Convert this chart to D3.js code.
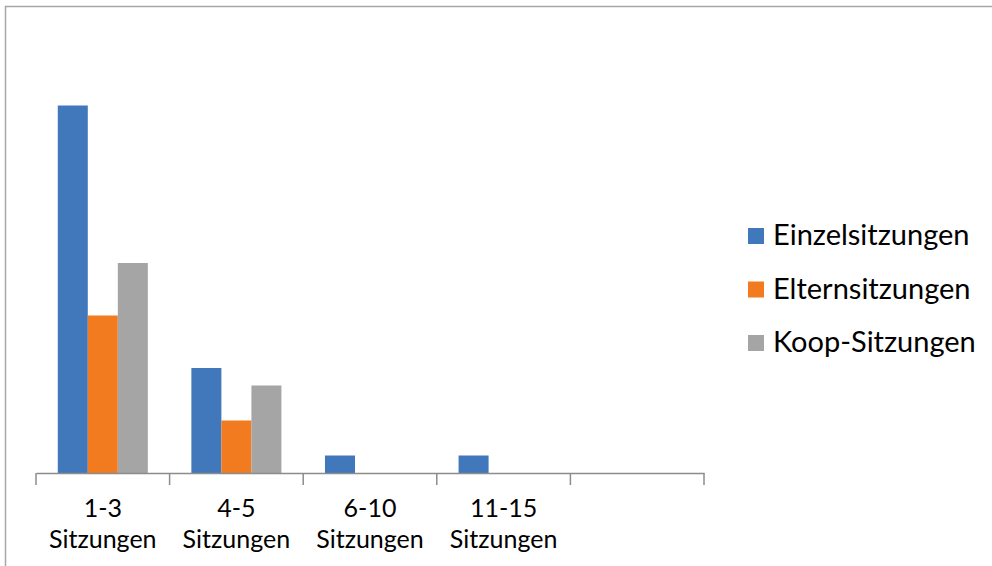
<!DOCTYPE html>
<html>
<head>
<meta charset="utf-8">
<script src="https://cdn.jsdelivr.net/npm/d3@7"></script>
<style>
  html, body { margin: 0; padding: 0; background: #fff; }
  svg { display: block; font-family: Lato, "Open Sans", sans-serif; }
</style>
</head>
<body>
<svg id="chart" width="992" height="566"></svg>
<script>
const categories = ["1-3 Sitzungen", "4-5 Sitzungen", "6-10 Sitzungen", "11-15 Sitzungen", ""];
const seriesNames = ["Einzelsitzungen", "Elternsitzungen", "Koop-Sitzungen"];
const einzel = [21, 6, 1, 1, 0];
const eltern = [9, 3, 0, 0, 0];
const koop = [12, 5, 0, 0, 0];
const colors = ["#4178bc", "#f27a1f", "#a5a5a5"];
const yMax = 25;

const seriesValues = [einzel, eltern, koop];
const svg = d3.select("#chart");

// outer border (left and top visible)
svg.append("line").attr("x1", 5.5).attr("x2", 5.5).attr("y1", 6).attr("y2", 566)
  .attr("stroke", "#a6a6a6").attr("stroke-width", 1.5);
svg.append("line").attr("x1", 5).attr("x2", 992).attr("y1", 6.5).attr("y2", 6.5)
  .attr("stroke", "#a6a6a6").attr("stroke-width", 1.5);

const x0 = d3.scaleBand().domain(d3.range(categories.length)).range([36, 704]).paddingInner(0).paddingOuter(0);
const bw = x0.bandwidth();
const groupW = bw * 0.674;
const x1 = d3.scaleBand().domain(d3.range(seriesNames.length)).range([(bw - groupW) / 2, (bw + groupW) / 2]).padding(0);
const y = d3.scaleLinear().domain([0, yMax]).range([473, 35.5]);

const g = svg.append("g");
seriesValues.forEach((vals, si) => {
  g.selectAll(null).data(vals.map((v, i) => ({ v, i })).filter(d => d.v > 0))
    .enter().append("rect")
    .attr("x", d => x0(d.i) + x1(si))
    .attr("y", d => y(d.v))
    .attr("width", x1.bandwidth())
    .attr("height", d => y(0) - y(d.v))
    .attr("fill", colors[si]);
});

// x axis
const axis = d3.axisBottom(x0).tickSize(0).tickFormat(() => "");
const ax = svg.append("g").attr("transform", "translate(0,473)").call(axis);
ax.select(".domain").attr("stroke", "#8c8c8c").attr("stroke-width", 1.5);
const bounds = d3.range(categories.length + 1).map(i => 36 + i * bw);
ax.selectAll(".bt").data(bounds).enter().append("line")
  .attr("x1", d => d).attr("x2", d => d).attr("y1", 0).attr("y2", 12)
  .attr("stroke", "#8c8c8c").attr("stroke-width", 1.5);

// category labels (two lines)
categories.forEach((c, i) => {
  if (!c) return;
  const parts = c.split(" ");
  const t = svg.append("text").attr("text-anchor", "middle")
    .attr("font-size", 25).attr("fill", "#000")
    .attr("x", x0(i) + bw / 2).attr("y", 517);
  parts.forEach((p, k) => t.append("tspan").attr("x", x0(i) + bw / 2).attr("dy", k === 0 ? 0 : 31).text(p));
});

// legend
const leg = svg.append("g");
seriesNames.forEach((n, i) => {
  const base = 245 + i * 53.5;
  leg.append("rect").attr("x", 748).attr("y", base - 17).attr("width", 16).attr("height", 16).attr("fill", colors[i]);
  leg.append("text").attr("x", 773).attr("y", base).attr("font-size", 29).attr("fill", "#000").text(n);
});
</script>
</body>
</html>
